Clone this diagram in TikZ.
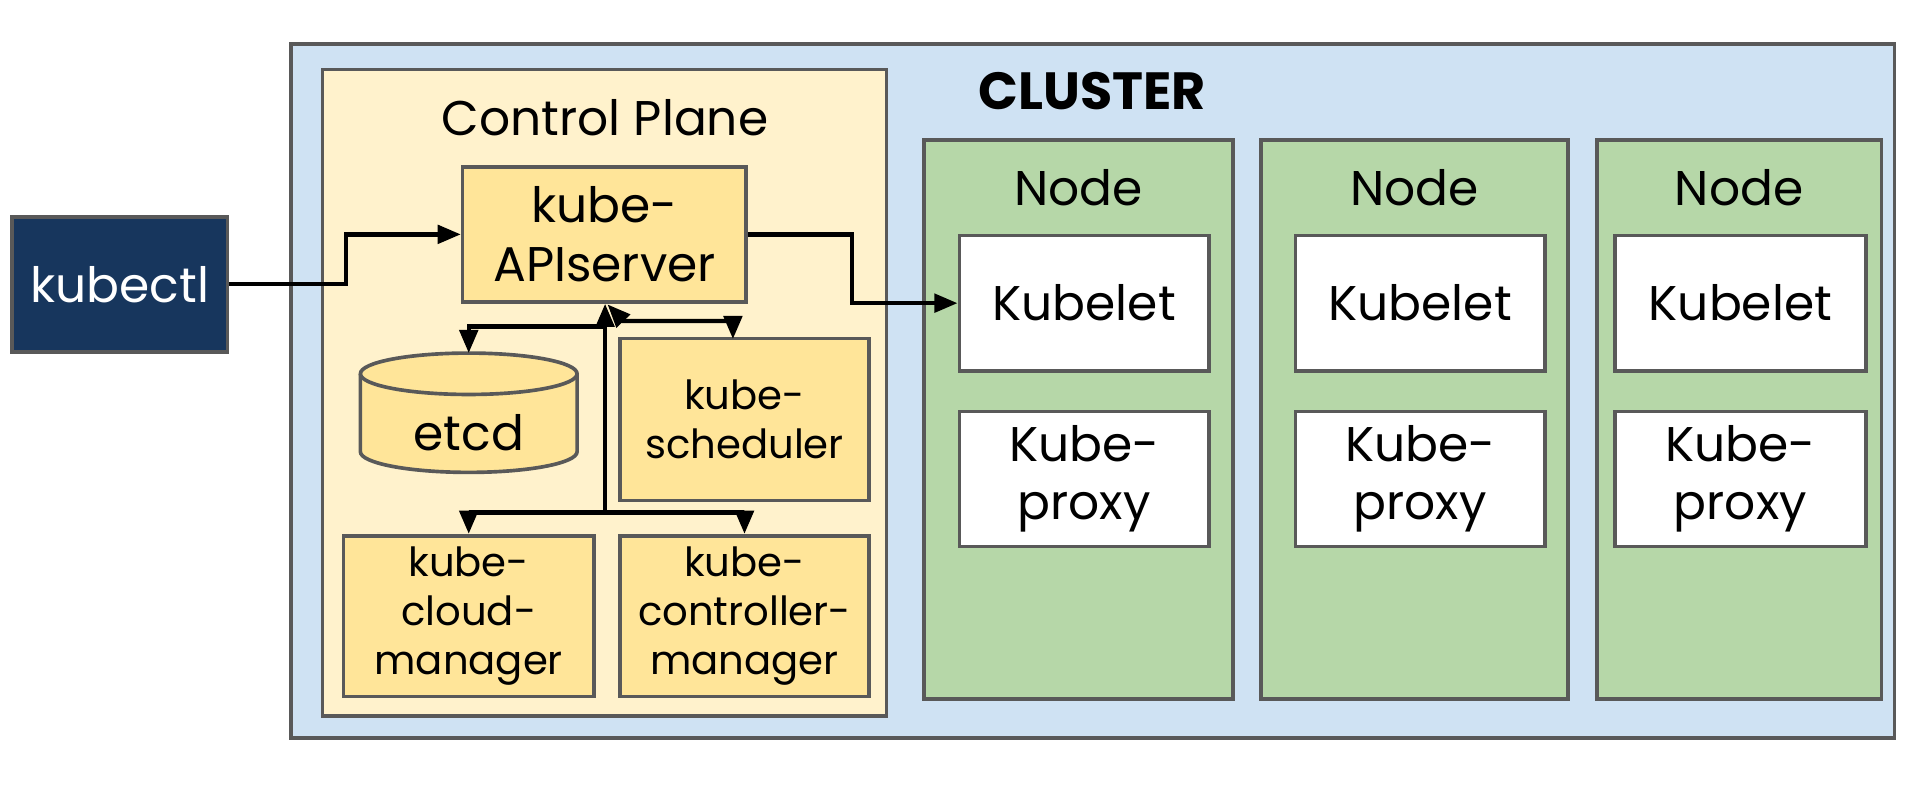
\documentclass[tikz,border=0pt]{standalone}
\usepackage{fontspec}
\setmainfont{Poppins}
\usetikzlibrary{arrows.meta,calc}
\definecolor{clusterfill}{HTML}{CFE2F3}
\definecolor{cpfill}{HTML}{FFF2CC}
\definecolor{compfill}{HTML}{FFE599}
\definecolor{nodefill}{HTML}{B6D7A8}
\definecolor{edgegray}{HTML}{595959}
\definecolor{navy}{HTML}{17365D}
\begin{document}
\begin{tikzpicture}[x=1pt,y=-1pt,
  box/.style={draw=edgegray, line width=3pt, rectangle, inner sep=0pt, align=center},
  bigtext/.style={font=\fontsize{40}{48}\selectfont},
  smalltext/.style={font=\fontsize{33}{40}\selectfont},
  conn/.style={line width=3.6pt, draw=black},
  tip/.style={-{Triangle[length=19pt,width=15pt]}},
  dtip/.style={{Triangle[length=19pt,width=15pt]}-{Triangle[length=19pt,width=15pt]}},
]
\useasboundingbox (0,0) rectangle (1568,646);
% containers
\node[box, fill=clusterfill, minimum width=1317pt, minimum height=570pt] (cluster) at (897.5,321) {};
\node[box, fill=cpfill, minimum width=463pt, minimum height=531pt] (cp) at (496.5,322.5) {};
\node[font=\fontsize{43}{50}\bfseries\selectfont, anchor=base] (clusterlbl) at (897,90) {CLUSTER};
\node[bigtext, anchor=base] (cplbl) at (497,111) {Control Plane};
% worker nodes
\node[box, fill=nodefill, minimum width=253.5pt, minimum height=459pt] (node1) at (885.75,344.5) {};
\node[box, fill=nodefill, minimum width=252pt, minimum height=459pt] (node2) at (1162,344.5) {};
\node[box, fill=nodefill, minimum width=234pt, minimum height=459pt] (node3) at (1428.5,344.5) {};
\node[bigtext, anchor=base] (n1lbl) at (885.75,169) {Node};
\node[bigtext, anchor=base] (n2lbl) at (1162,169) {Node};
\node[bigtext, anchor=base] (n3lbl) at (1428.5,169) {Node};
\node[box, fill=white, bigtext, minimum width=205pt, minimum height=111pt] (kubelet1) at (890.5,249) {Kubelet};
\node[box, fill=white, bigtext, minimum width=205pt, minimum height=111pt] (kubelet2) at (1166.5,249) {Kubelet};
\node[box, fill=white, bigtext, minimum width=206pt, minimum height=111pt] (kubelet3) at (1429.5,249) {Kubelet};
\node[box, fill=white, bigtext, minimum width=205pt, minimum height=111pt] (proxy1) at (890.5,393.5) {Kube-\\proxy};
\node[box, fill=white, bigtext, minimum width=205pt, minimum height=111pt] (proxy2) at (1166.5,393.5) {Kube-\\proxy};
\node[box, fill=white, bigtext, minimum width=206pt, minimum height=111pt] (proxy3) at (1429.5,393.5) {Kube-\\proxy};
% control plane components
\node[box, fill=compfill, bigtext, minimum width=233pt, minimum height=111pt] (api) at (496.5,192.5) {kube-\\APIserver};
\node[box, fill=navy, text=white, bigtext, minimum width=177pt, minimum height=111pt] (kubectl) at (98.5,233.5) {kubectl};
\node[box, fill=compfill, smalltext, minimum width=205pt, minimum height=133pt] (sched) at (611.5,344.5) {kube-\\scheduler};
\node[box, fill=compfill, smalltext, minimum width=206pt, minimum height=132pt] (cloud) at (385,506) {kube-\\cloud-\\manager};
\node[box, fill=compfill, smalltext, minimum width=205pt, minimum height=132pt] (ctrl) at (611.5,506) {kube-\\controller-\\manager};
% etcd cylinder
\draw[draw=edgegray, line width=3pt, fill=compfill]
  (296,307) -- (296,371) arc[start angle=180, end angle=0, x radius=89, y radius=17]
  -- (474,307) arc[start angle=360, end angle=180, x radius=89, y radius=17] -- cycle;
\draw[draw=edgegray, line width=3pt] (296,307) arc[start angle=180, end angle=0, x radius=89, y radius=17];
\node[bigtext] (etcd) at (385,355) {etcd};
\coordinate (etcdtop) at (385,290);
% connectors
\coordinate (busbot) at (497,421);
\coordinate (schedA) at (499,250);
\coordinate (schedB) at (512,263.7);
\draw[conn,tip] (kubectl.east) -- (284,233.5) |- (api.west);
\draw[conn,tip] (api.east) -- (700,192.5) |- (kubelet1.west);
\draw[conn,tip] (busbot) -- (busbot |- api.south);
\draw[conn,tip] (497,268.3) -| (etcdtop);
\draw[conn,tip] (busbot) -| (cloud.north);
\draw[conn,tip] (busbot) -| (ctrl.north);
\draw[conn,dtip] (schedA) -- (schedB) -- (602,263.7) -- (602,278.5);
\end{tikzpicture}
\end{document}
